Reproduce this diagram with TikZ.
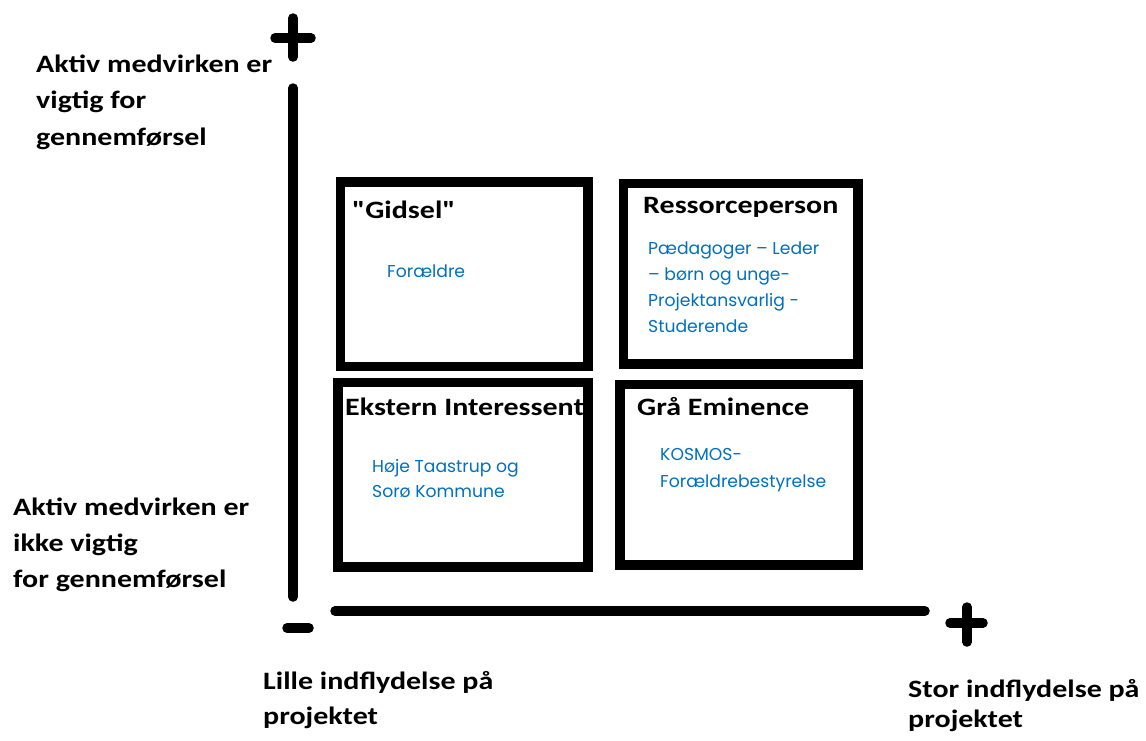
\documentclass[tikz,border=0pt]{standalone}
\usepackage{fontspec}
\setmainfont{Carlito}
\newfontfamily\lblfont{Carlito}[FakeStretch=1.2]
\newfontfamily\bluefont{Poppins}
\definecolor{txtblue}{RGB}{0,112,192}
\begin{document}
\begin{tikzpicture}[x=1pt,y=-1pt,
  frame/.style={draw=black,line width=9.5pt,line join=miter,inner sep=0pt,rectangle},
  axisline/.style={draw=black,line width=9.5pt,line cap=round},
  lbl/.style={anchor=base west,inner sep=0pt,align=left,font=\lblfont\bfseries\fontsize{25}{36.5}\selectfont},
  ttl/.style={anchor=base west,inner sep=0pt,font=\lblfont\bfseries\fontsize{25}{28}\selectfont},
  itm/.style={anchor=base west,inner sep=0pt,align=left,text=txtblue,font=\bluefont\fontsize{17.2}{25.7}\selectfont}]
\useasboundingbox[fill=white] (0,0) rectangle (1146,740);

% frames
\node[frame,minimum width=247.5pt,minimum height=184.5pt] (gbox) at (464.25,274.25) {};
\node[frame,minimum width=234.5pt,minimum height=180.5pt] (rbox) at (740.75,273.75) {};
\node[frame,minimum width=250pt,minimum height=184.5pt] (ebox) at (463,474.75) {};
\node[frame,minimum width=238pt,minimum height=180.5pt] (bbox) at (739,474.75) {};

% axes
\coordinate (vtop) at (293,88);
\coordinate (vbot) at (293,597);
\coordinate (hleft) at (335,611);
\coordinate (hright) at (925,611);
\draw[axisline] (vtop) -- (vbot);
\draw[axisline] (hleft) -- (hright);
% plus / minus signs
\coordinate (p1t) at (293,18);
\coordinate (p1b) at (293,57);
\coordinate (p1l) at (275,38);
\coordinate (p1r) at (311,38);
\draw[axisline] (p1t) -- (p1b);
\draw[axisline] (p1l) -- (p1r);
\coordinate (m1l) at (287,628);
\coordinate (m1r) at (309,628);
\draw[axisline] (m1l) -- (m1r);
\coordinate (p2t) at (967,607);
\coordinate (p2b) at (967,642);
\coordinate (p2l) at (950,623);
\coordinate (p2r) at (983,623);
\draw[axisline] (p2t) -- (p2b);
\draw[axisline] (p2l) -- (p2r);

% axis labels (base = baseline of last line)
\node[lbl] (ya) at (36,145) {Aktiv medvirken er\\vigtig for\\gennemførsel};
\node[lbl,font=\lblfont\bfseries\fontsize{25}{36}\selectfont] (yb) at (13,587) {Aktiv medvirken er\\ikke vigtig\\for gennemførsel};
\node[lbl,font=\lblfont\bfseries\fontsize{25}{35}\selectfont] (xa) at (263,724) {Lille indflydelse på\\projektet};
\node[lbl,font=\lblfont\bfseries\fontsize{25}{30}\selectfont] (xb) at (908,727) {Stor indflydelse på\\projektet};

% titles
\node[ttl] (gt) at (352,218) {"Gidsel"};
\node[ttl] (rt) at (643,213) {Ressorceperson};
\node[ttl] (et) at (345,415) {Ekstern Interessent};
\node[ttl] (bt) at (637,415) {Grå Eminence};

% contents
\node[itm] (gc) at (387,277) {Forældre};
\node[itm] (rc) at (648,332) {Pædagoger – Leder\\– børn og unge-\\Projektansvarlig -\\Studerende};
\node[itm,font=\bluefont\fontsize{17.2}{25}\selectfont] (ec) at (372,497) {Høje Taastrup og\\Sorø Kommune};
\node[itm,font=\bluefont\fontsize{17.2}{27}\selectfont] (bc) at (660,487) {KOSMOS-\\Forældrebestyrelse};
\end{tikzpicture}
\end{document}
